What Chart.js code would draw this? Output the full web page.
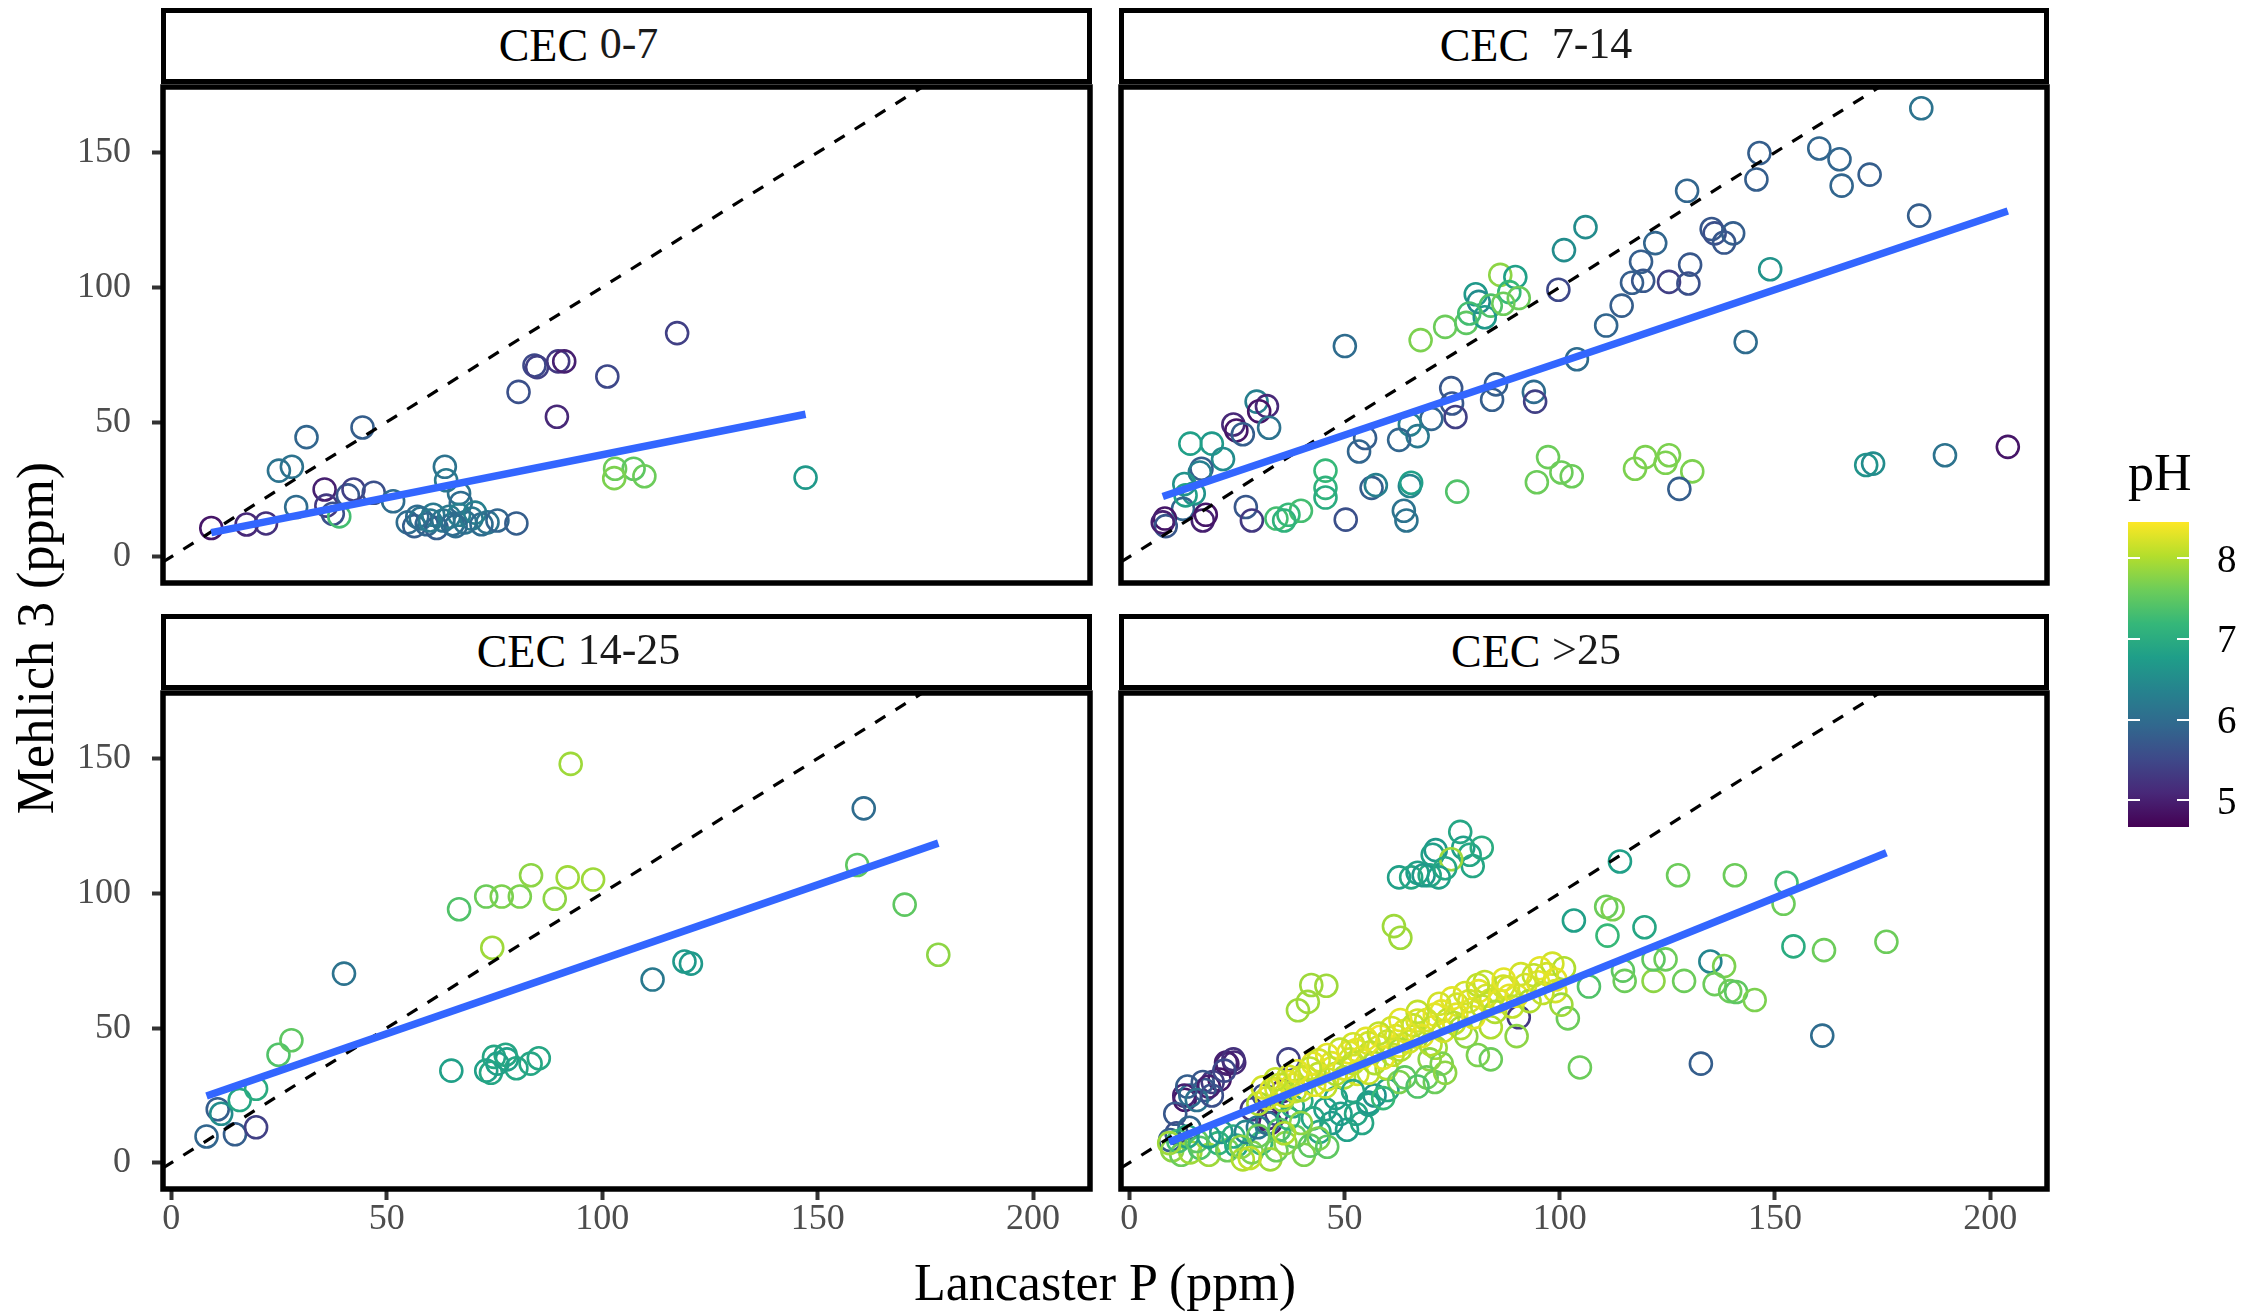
<!DOCTYPE html>
<html>
<head>
<meta charset="utf-8">
<title>Mehlich 3 vs Lancaster P by CEC class</title>
<script src="https://cdn.jsdelivr.net/npm/chart.js@4.4.1/dist/chart.umd.min.js"></script>
<style>
  html, body { margin: 0; padding: 0; background: #fff; }
  #fig { position: relative; width: 2267px; height: 1313px; overflow: hidden; background: #fff;
         font-family: "Liberation Serif", "Times New Roman", serif; color: #000; }
  #fig canvas { position: absolute; left: 0; top: 0; }
  .strip { position: absolute; box-sizing: border-box; border: 5px solid #000; background: #fff;
           display: flex; align-items: center; justify-content: center; }
  .strip .t { font-size: 46px; line-height: 1; padding-right: 96px; white-space: pre; }
  .strip .r { font-size: 44px; position: relative; top: -3px; color: #1a1a1a; }
  .axis-title { position: absolute; font-size: 52px; line-height: 52px; white-space: nowrap; }
  #ytitle { left: 36px; top: 638px; transform: translate(-50%, -50%) rotate(-90deg); }
  #xtitle { left: 1105px; top: 1257px; transform: translateX(-50%); }
  #lgtitle { position: absolute; left: 2128px; top: 447px; font-size: 52px; line-height: 52px; }
  #bar { position: absolute; left: 2128px; top: 522px; width: 61px; height: 305px; }
  .btick { position: absolute; height: 2px; width: 12px; background: #fff; }
  .blab { position: absolute; left: 2217px; font-size: 39px; line-height: 39px; }
</style>
</head>
<body>
<div id="fig">
  <div class="axis-title" id="ytitle">Mehlich 3 (ppm)</div>
  <div class="axis-title" id="xtitle">Lancaster P (ppm)</div>
  <div id="lgtitle">pH</div>
  <div id="bar"></div>
</div>
<script>
// ---------- data ----------
const CEC_CLASSES = ['0-7', '\u00a07-14', '14-25', '>25'];
const X_TICKS = [0, 50, 100, 150, 200];
const Y_TICKS = [0, 50, 100, 150];
const PH_TICKS = [5, 6, 7, 8];
const PH_LIMITS = [4.67, 8.45];
const X_LIMITS = [-1.9, 213.2];
const Y_LIMITS = [-9.7, 174.3];

// CEC 0-7
const lancaster_0_7 = [9.3,17.5,22,25,28,31.4,29,44.4,35.6,36, 37.5,39,41,42.3,47,51.5,63.5,63.8,66.8,67.2,
  80.6,84.3,84.9,89.5,89.8,91.2,101.2,117.4,103,107.3, 109.8,102.8,147.2,
  54.9,56.4,57.9,59.3,60.8,61.6,63.1,64.5,65.3,66.8, 68.2,69.7,70.5,72,73.4,75.7,80.1,57.1,60.1,66];
const mehlich_0_7 = [10.7,12,12.4,32,33.4,44.4,18.5,48,25,19, 16,15,22.8,25,23.8,20.6,33.4,28.4,23.5,20,
  61.2,71,70.4,52,72.5,72.5,66.9,83,32.7,32.7, 29.9,29.2,29.4,
  12.8,11.4,14.2,12.1,15.6,10.7,13.5,14.9,12.1,15.6, 12.8,14.2,16.4,12.1,12.8,13.5,12.4,14.9,13.5,11.4];
const ph_0_7 = [4.9,5.1,5.2,6.1,6.1,5.9,6.0,5.8,5.0,5.3, 5.6,7.3,5.7,5.4,5.6,6.0,6.1,6.2,6.1,6.0,
  5.6,5.5,5.4,5.1,5.3,5.0,5.5,5.4,7.6,7.5, 7.6,7.7,6.7,
  6.0,5.8,6.1,5.9,6.2,5.8,6.1,6.2,6.0,6.3, 6.1,6.2,6.3,6.0,6.1,5.9,5.8,6.0,6.2,6.0];
const fitX_0_7 = [9.3, 147.2];
const fitY_0_7 = [9.0, 52.9];

// CEC 7-14
const lancaster_7_14 = [184,146.4,145.7,160.3,165,165.5,172,129.6,183.5,106, 101,122.2,135.3,136,140.3,138.2,118.9,119.4,116.8,125.4,
  130.3,129.9,114.4,110.8,99.7,148.9,143.2,104,50.1,67.7, 73.4,78.3,80.5,81.2,86.2,89.7,88.3,90.5,84,82.6,
  86.9,79,74.8,85.2,84.3,94,94.3,75,75.8,70.2, 65.2,67,62.7,54.8,53.4,29.6,32,30.2,32.5,24.2,
  24.9,26.4,19.2,14.2,21.8,16.8,16.4,12.8,15,12.5, 8.3,8.5,7.8,17.1,17.8,27.1,28.5,50.3,63.8,64.4,
  56.3,57.3,65.2,65.5,45.6,45.6,45.6,34.2,37,39.9, 36,76.2,94.7,97.3,100.4,102.8,117.5,119.9,124.6,125.4,
  130.8,127.8,171.2,172.8,189.5,204.1,13.1];
const mehlich_7_14 = [166.4,149.8,140,151.5,147.5,137.7,141.8,135.8,126.6,122.3, 113.8,116.4,121.6,120,120,116.6,109.5,102.4,101.7,102,
  108.4,101.4,93.2,85.8,99.1,106.7,79.7,73.3,78.2,80.4, 85.3,86.8,97.4,94.6,104.6,103.8,98.2,96,93.2,88.9,
  93.9,90.3,62.6,64,58.3,61.2,57.6,56.9,51.9,51.2, 49.1,44.8,43.4,44.1,39.1,57.6,55.9,54,47.9,49.1,
  46.9,45.5,42,42,36.3,32.7,31.3,27,23.5,17.8, 14.2,11.4,12.8,13.5,15.6,18.5,13.5,13.8,17.1,13.5,
  25.6,26.6,26.3,27.5,32,25.6,22,14.2,15.6,17.1, 13.5,24.2,27.7,37,31.3,29.9,32.7,37,34.9,37.7,
  31.7,25.2,34.1,34.6,37.7,40.8,22.8];
const ph_7_14 = [6.1,5.8,5.8,5.9,5.9,5.9,5.8,5.9,5.8,6.5, 6.5,5.9,5.7,5.6,5.8,5.7,5.8,5.7,5.8,5.4,
  5.7,5.6,5.8,5.9,5.5,6.6,6.0,6.0,6.0,7.7, 7.6,7.5,6.7,6.5,7.8,6.8,7.2,7.6,7.4,6.7,
  7.6,7.3,5.7,5.8,5.8,6.0,5.4,5.7,5.4,5.9, 6.3,6.2,5.9,5.8,5.9,6.3,5.1,4.9,6.1,5.1,
  4.9,5.8,6.7,6.8,6.5,5.8,6.3,6.6,6.6,5.9, 4.9,5.7,5.0,5.0,4.9,5.7,5.3,5.6,6.1,6.1,
  5.8,6.3,6.4,6.8,7.2,7.1,7.0,7.3,7.2,7.3, 7.1,7.4,7.6,7.6,7.6,7.6,7.7,7.7,7.7,7.7,
  7.7,5.8,6.6,6.5,6.1,4.9,6.8];
const fitX_7_14 = [7.8, 204.1];
const fitY_7_14 = [22.4, 128.3];

// CEC 14-25
const lancaster_14_25 = [8.2,10.8,11.6,14.8,19.7,15.9,19.7,24.9,27.9,40.1, 66.8,73.1,76.7,80.9,83.5,89,92,97.9,92.7,74.5,
  65,73.1,74.2,74.9,77.9,77.6,80.1,83.4,85.3,75.7, 111.7,119.1,120.6,160.7,159.2,170.2,178];
const mehlich_14_25 = [9.8,19.9,18.2,10.6,13.2,23.3,27.5,40.1,45.5,70.2, 94.1,98.8,98.8,98.8,106.7,98,105.9,105.1,148,79.8,
  34.2,34.2,33.4,39.3,38.4,40.1,35.1,36.8,38.8,36.8, 68,74.7,73.9,131.5,110.5,95.8,77.2];
const ph_14_25 = [5.9,5.8,6.5,5.8,5.4,6.9,7.0,7.4,7.5,6.1, 7.4,7.6,7.7,7.7,7.8,7.8,7.9,7.9,7.9,7.9,
  6.8,6.8,6.9,6.9,6.8,6.9,6.9,6.9,6.9,6.8, 6.2,6.7,6.7,6.0,7.5,7.5,7.8];
const fitX_14_25 = [8.2, 178];
const fitY_14_25 = [24.8, 118.6];

// CEC >25
const lancaster_gt25 = [
  76.9,77.6,79.1,81.9,79.8,71.2,70.5,74.8,69.8,67.0,62.7,65.5,68.4,71.9,73.4,
  114.0,127.5,140.7,152.7,152.0,110.8,112.3,103.3,119.7,111.1, 154.3,161.4,175.9,135.0,138.2,136.0,139.6,141.0,145.3,128.9,
  121.8,124.6,121.8,114.7,115.1,106.8,90.5,101.9,104.7,132.8, 161.0,
  61.5,63.0,39.2,41.5,42.3,45.8,
  12.9,22.5,24.4,21.0,19.4,17.5,14.2,12.8,13.5,17.1, 18.5,22.8,24.2,22.1,15.7,19.2,10.7,28.5,32.1,34.2, 37.0,35.6,31.3,32.8,11.0,9.5,14.0,
  49.1,52.7,54.1,50.6,47.0,44.2,55.6,45.6,42.7,38.0,40.0,57.0,60.0,48.0,
  10.0,12.1,14.2,16.4,18.5,20.7,22.8,24.9,26.4,28.5, 30.6,32.8,34.2,36.3,38.5,40.6,42.0,11.4,13.5,15.7,
  18.5,21.4,24.2,27.1,29.9,32.1,34.9,37.0,39.9,9.3, 26.0,30.0,36.0,44.0,46.0,28.0,
  98.3,101.0,95.4,94.0,99.0,100.4,88.3,86.9,82.6,81.2, 84.0,79.8,76.2,72.6,75.5,78.3,84.0,70.5,67.0,66.2,
  71.2,69.8,72.6,69.1,62.7,61.2,58.4,55.6,52.7,59.8, 62.7,55.6,51.3,49.9,47.0,45.6,42.7,39.9,37.0,38.5, 35.6,34.2,
  30,32,33,35,36,38,40,41,43,44, 46,47,48,50,51,52,53,54,56,57, 58,59,60,62,63,64,65,66,68,69,
  70,71,73,74,76,77,79,80,82,83, 85,86,88,89,90,92,93,95,96,97, 99,91,87,81,78,75,72,67,63,61,
  58,55,52,49,46,44,42,39,37,34, 31,
  52,55.6,59,64,71,73.4,67,81,84,90];
const mehlich_gt25 = [
  122.8,116.9,114.3,116.9,110.1,116.0,114.3,112.6,106.7,107.6,105.9,105.9,106.7,105.9,109.3,
  111.8,106.7,106.7,103.9,96.1,95.0,94.1,89.9,87.4,84.3, 80.3,78.9,82.0,74.7,73.0,66.3,63.7,63.4,60.4,67.5,
  67.5,75.5,75.5,71.3,67.5,65.4,54.0,53.6,35.4,36.8, 47.2,
  87.8,83.5,56.6,59.7,66.0,65.7,
  23.4,37.2,37.2,30.9,30.0,27.0,25.0,25.0,28.3,30.0, 28.3,36.8,38.4,34.2,23.3,25.0,18.2,19.9,16.5,18.2, 38.4,26.6,25.0,14.8,11.0,8.5,13.0,
  18.2,18.2,14.8,12.3,14.8,11.5,22.4,19.9,16.5,21.0,23.0,25.0,27.0,24.0,
  4.7,3.0,3.9,5.6,3.0,7.3,4.7,6.4,1.3,3.9, 7.3,1.3,4.7,7.3,9.8,3.0,6.4,8.1,9.8,8.1,
  9.8,11.5,9.8,11.5,13.2,14.8,12.3,16.5,14.8,7.3, 6.0,10.0,11.0,9.0,6.0,1.8,
  73.9,72.2,72.2,69.6,63.7,58.7,62.0,65.4,67.1,63.7, 60.4,57.0,58.7,56.2,51.9,46.9,50.3,50.3,52.8,46.9,
  42.7,38.4,36.8,31.7,43.5,40.1,46.9,44.4,41.8,35.1, 30.0,33.4,38.4,31.7,35.1,28.3,36.8,31.7,30.0,26.6, 23.3,27.5,
  22,24,27,29,25,29,27,32,29,33, 31,37,33,35,41,37,33,39,41,37, 43,39,45,47,42,49,45,51,47,53,
  44,55,49,53,55,50,60,54,58,62, 56,60,65,58,62,66,60,67,63,70, 68,70,68,66,63,61,59,56,53,50,
  48,46,44,42,40,38,35,34,32,31, 28,
  26.6,21.6,24,31.7,30,33.4,28.3,40,38.4,47];
const ph_gt25 = [
  6.9,6.8,6.9,7.0,6.9,6.7,6.8,7.9,6.9,6.8,6.8,6.9,6.7,6.8,6.9,
  6.8,7.6,7.6,7.3,7.6,7.6,7.7,6.8,6.9,7.2, 7.0,7.6,7.6,6.4,7.7,7.6,7.6,7.5,7.7,7.6,
  7.8,7.6,7.5,7.5,7.6,7.4,5.3,7.6,7.6,5.8, 6.0,
  7.9,7.9,7.9,7.9,7.9,7.9,
  4.9,5.0,5.1,4.9,5.3,5.7,6.0,5.0,5.8,5.7, 5.0,5.0,5.2,5.5,6.1,5.6,5.7,5.3,5.1,5.5, 5.4,5.1,5.6,5.0,5.6,5.8,5.9,
  6.8,6.9,6.9,6.8,6.7,6.9,6.7,6.8,6.9,6.9,7.0,6.6,6.9,6.8,
  7.8,7.6,7.9,7.4,7.9,7.1,7.6,6.9,8.0,7.7, 7.2,7.9,7.6,7.8,7.5,7.7,7.5,7.3,6.9,7.5,
  6.8,6.6,7.0,6.4,6.2,6.0,7.4,7.1,7.8,7.9, 7.8,7.6,8.0,7.7,7.5,8.1,
  8.2,8.0,8.3,8.1,8.2,7.9,8.3,8.2,8.1,8.3, 8.2,8.3,8.2,8.3,8.1,7.8,8.0,8.3,8.2,8.1,
  7.9,7.8,7.7,7.6,8.3,8.1,8.4,8.2,8.3,8.0, 7.7,8.1,8.2,8.0,8.3,8.1,8.3,8.2,8.3,8.1, 7.9,8.2,
  8.0,8.2,8.3,8.1,8.2,8.3,8.0,8.2,8.3,8.1, 8.2,8.3,8.0,8.2,8.3,8.1,8.2,8.3,8.1,8.0, 8.2,8.3,8.1,8.2,8.0,8.3,8.2,8.1,8.3,8.2,
  8.0,8.3,8.2,8.1,8.3,8.0,8.2,8.3,8.1,8.2, 8.0,8.3,8.2,8.1,8.3,8.2,8.0,8.3,8.1,8.2, 8.3,8.2,8.3,8.1,8.2,8.3,8.2,8.1,8.3,8.2,
  8.1,8.3,8.2,8.1,8.3,8.2,8.1,8.3,8.2,8.1, 8.2,
  6.9,6.8,7.2,7.5,7.6,7.8,7.4,7.7,7.6,7.8];
const fitX_gt25 = [9.3, 175.9];
const fitY_gt25 = [7.7, 115.0];

// ---------- layout ----------
const W = 2267, H = 1313;
const COLS = [[163, 1090], [1121, 2047]];
const ROWS = [[87, 583], [693, 1189]];
const STRIP_ROWS = [[8, 84], [614, 690]];
const FONT = '"Liberation Serif", "Times New Roman", serif';

// viridis colour ramp used for pH
const VIRIDIS = ['#440154','#482878','#3e4989','#31688e','#26828e','#1f9e89','#35b779','#6dcd59','#b4de2c','#fde725'];
function hexRgb(h) { return [1, 3, 5].map(i => parseInt(h.substr(i, 2), 16)); }
const VIR_RGB = VIRIDIS.map(hexRgb);
function phColor(v) {
  let t = (v - PH_LIMITS[0]) / (PH_LIMITS[1] - PH_LIMITS[0]);
  t = Math.max(0, Math.min(1, t));
  const s = t * (VIR_RGB.length - 1);
  const i = Math.min(Math.floor(s), VIR_RGB.length - 2);
  const f = s - i;
  const c = VIR_RGB[i].map((a, k) => Math.round(a + (VIR_RGB[i + 1][k] - a) * f));
  return `rgb(${c[0]},${c[1]},${c[2]})`;
}

const panels = [
  { label: CEC_CLASSES[0], x: lancaster_0_7,  y: mehlich_0_7,  ph: ph_0_7,  fx: fitX_0_7,  fy: fitY_0_7,  col: 0, row: 0 },
  { label: CEC_CLASSES[1], x: lancaster_7_14, y: mehlich_7_14, ph: ph_7_14, fx: fitX_7_14, fy: fitY_7_14, col: 1, row: 0 },
  { label: CEC_CLASSES[2], x: lancaster_14_25, y: mehlich_14_25, ph: ph_14_25, fx: fitX_14_25, fy: fitY_14_25, col: 0, row: 1 },
  { label: CEC_CLASSES[3], x: lancaster_gt25, y: mehlich_gt25, ph: ph_gt25, fx: fitX_gt25, fy: fitY_gt25, col: 1, row: 1 }
];

// thick black frame around each panel
const framePlugin = {
  id: 'frame',
  afterDraw(chart) {
    const { ctx, chartArea: a } = chart;
    ctx.save();
    ctx.strokeStyle = '#000';
    ctx.lineWidth = 5.5;
    ctx.strokeRect(a.left, a.top, a.right - a.left, a.bottom - a.top);
    ctx.restore();
  }
};

const fig = document.getElementById('fig');

panels.forEach(p => {
  const [l, r] = COLS[p.col];
  const [t, b] = ROWS[p.row];
  const showY = p.col === 0, showX = p.row === 1;

  // facet strip
  const strip = document.createElement('div');
  strip.className = 'strip';
  const [st, sb] = STRIP_ROWS[p.row];
  strip.style.left = (l - 2) + 'px';
  strip.style.width = (r - l + 4) + 'px';
  strip.style.top = st + 'px';
  strip.style.height = (sb - st) + 'px';
  const tx = document.createElement('span');
  tx.className = 't';
  tx.appendChild(document.createTextNode('CEC '));
  const rg = document.createElement('span');
  rg.className = 'r';
  rg.textContent = p.label;
  tx.appendChild(rg);
  strip.appendChild(tx);
  fig.appendChild(strip);

  const cv = document.createElement('canvas');
  cv.width = W; cv.height = H;
  fig.appendChild(cv);

  const tickGrid = { drawOnChartArea: false, drawTicks: true, tickLength: 11, tickWidth: 4, tickColor: '#333333' };
  const tickFont = { family: FONT, size: 36, lineHeight: 1 };

  new Chart(cv, {
    type: 'scatter',
    data: {
      datasets: [
        { data: p.fx.map((x, i) => ({ x, y: p.fy[i] })), showLine: true, borderColor: '#3366FF',
          borderWidth: 7.5, pointRadius: 0, order: 0, clip: 0 },
        { data: [{ x: X_LIMITS[0], y: X_LIMITS[0] }, { x: Y_LIMITS[1], y: Y_LIMITS[1] }], showLine: true,
          borderColor: '#000', borderWidth: 3.2, borderDash: [12, 12], pointRadius: 0, order: 1, clip: 0 },
        { data: p.x.map((x, i) => ({ x, y: p.y[i] })), pointRadius: 11, pointBorderWidth: 2.6,
          pointBackgroundColor: 'rgba(0,0,0,0)', pointBorderColor: p.ph.map(phColor), order: 2, clip: 0 }
      ]
    },
    options: {
      responsive: false, animation: false, devicePixelRatio: 1, events: [],
      layout: { autoPadding: false,
        padding: { left: showY ? 0 : l, right: W - r, top: t, bottom: showX ? 0 : H - b } },
      plugins: { legend: { display: false }, tooltip: { enabled: false } },
      scales: {
        x: { type: 'linear', position: 'bottom', min: X_LIMITS[0], max: X_LIMITS[1], display: showX,
             afterBuildTicks: s => { s.ticks = X_TICKS.map(v => ({ value: v })); },
             afterFit: s => { if (showX) s.height = H - b; },
             grid: tickGrid, border: { display: false },
             ticks: { autoSkip: false, maxRotation: 0, padding: 2, color: '#4D4D4D', font: tickFont } },
        y: { type: 'linear', position: 'left', min: Y_LIMITS[0], max: Y_LIMITS[1], display: showY,
             afterBuildTicks: s => { s.ticks = Y_TICKS.map(v => ({ value: v })); },
             afterFit: s => { if (showY) s.width = l; },
             grid: tickGrid, border: { display: false },
             ticks: { autoSkip: false, padding: 21, color: '#4D4D4D', font: tickFont } }
      }
    },
    plugins: [framePlugin]
  });
});

// ---------- pH colour bar ----------
const bar = document.getElementById('bar');
bar.style.background = 'linear-gradient(to top, ' +
  VIRIDIS.map((c, i) => `${c} ${(i / (VIRIDIS.length - 1) * 100).toFixed(2)}%`).join(', ') + ')';
const BAR_TOP = 522, BAR_H = 305, BAR_L = 2128, BAR_W = 61;
PH_TICKS.forEach(v => {
  const y = BAR_TOP + BAR_H * (1 - (v - PH_LIMITS[0]) / (PH_LIMITS[1] - PH_LIMITS[0]));
  [BAR_L, BAR_L + BAR_W - 12].forEach(x0 => {
    const tk = document.createElement('div');
    tk.className = 'btick';
    tk.style.left = x0 + 'px';
    tk.style.top = (y - 1) + 'px';
    fig.appendChild(tk);
  });
  const lb = document.createElement('div');
  lb.className = 'blab';
  lb.style.top = (y - 19.5) + 'px';
  lb.textContent = String(v);
  fig.appendChild(lb);
});
</script>
</body>
</html>
